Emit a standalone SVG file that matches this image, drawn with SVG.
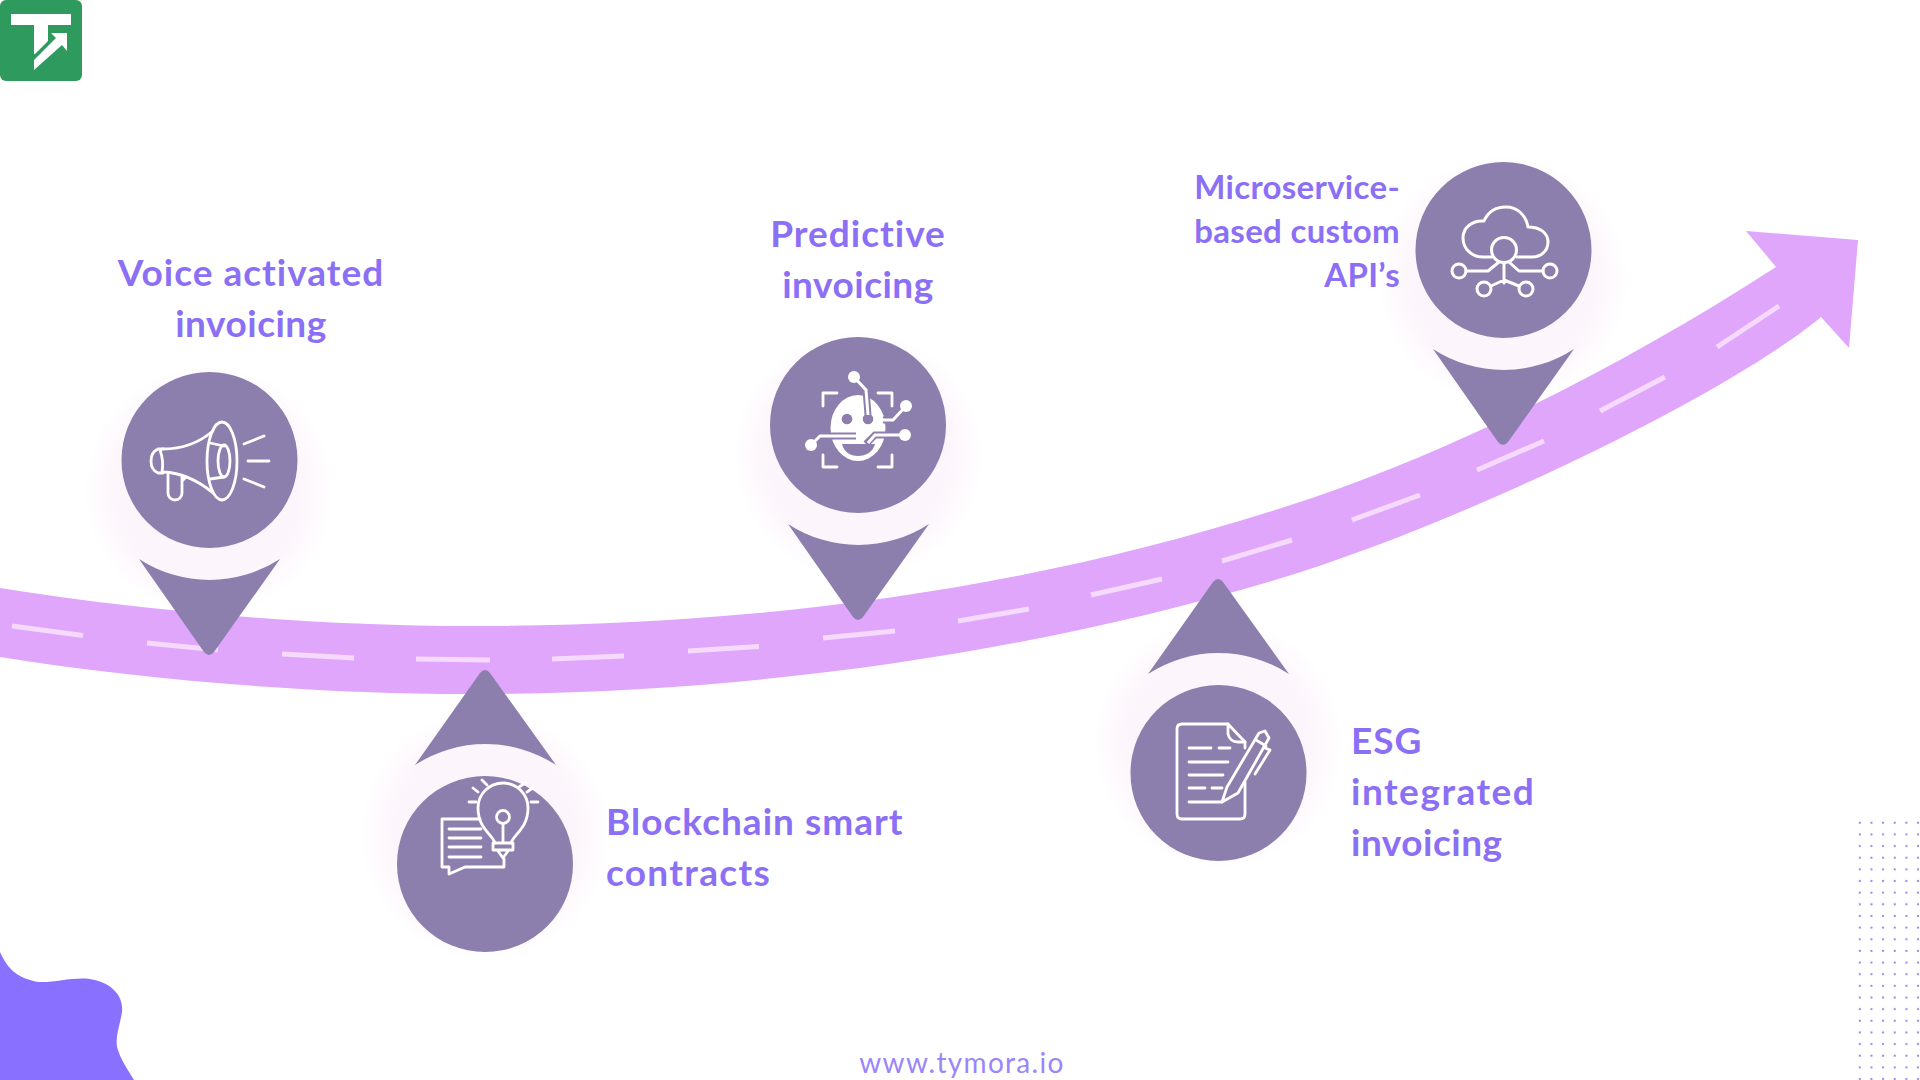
<svg xmlns="http://www.w3.org/2000/svg" width="1920" height="1080" viewBox="0 0 1920 1080">
<style>
.t{font-family:"Lato","Noto Sans",sans-serif;font-weight:700;fill:#8b6ff5;font-size:37px;letter-spacing:1px}
.s{font-size:33px;letter-spacing:.3px}
.n{letter-spacing:.5px}
.c{fill:#8c7fad}
.i{fill:none;stroke:#fff;stroke-width:2.8;stroke-linecap:round;stroke-linejoin:round}
.w{fill:#fff}
</style>
<defs>
<radialGradient id="halo"><stop offset="0.7" stop-color="#fcf5fb"/><stop offset="0.85" stop-color="#fef9fd"/><stop offset="1" stop-color="#fff"/></radialGradient>
<pattern id="dots" x="1854" y="817" width="11.65" height="11.65" patternUnits="userSpaceOnUse"><circle cx="5.8" cy="5.8" r="1.1" fill="#8f7fe0"/></pattern>
<path id="pinD" d="M-70,99 A129,129 0 0 0 71,99 L5,192 Q0,198 -5,192 Z" class="c"/>
<path id="pinU" d="M-70,-99 A129,129 0 0 1 71,-99 L5,-191 Q0,-197 -5,-191 Z" class="c"/>
</defs>
<rect width="1920" height="1080" fill="#fff"/>
<g id="decor">
<path d="M0,952 C8,970 18,978 38,982 C55,983 72,977 90,979 C110,982 124,995 122,1012 C120,1025 114,1040 118,1050 C121,1060 128,1070 134,1080 L0,1080 Z" fill="#8a70ff"/>
<rect x="1854" y="817" width="66" height="263" fill="url(#dots)"/>
</g>
<g id="logo">
<rect x="0" y="0" width="82" height="81" rx="6" fill="#2f9a5e"/>
<path d="M11,14 H71 V25 H48 V41 L35,54 H34 V25 H11 Z" fill="#fff"/>
<path d="M34,70 V60 L56,38 L51,33 H67 V51 L62,45 Z" fill="#fff"/>
</g>
<circle cx="209" cy="490" r="125" fill="url(#halo)"/>
<circle cx="858" cy="455" r="125" fill="url(#halo)"/>
<circle cx="1503" cy="280" r="125" fill="url(#halo)"/>
<circle cx="485" cy="834" r="125" fill="url(#halo)"/>
<circle cx="1218" cy="743" r="125" fill="url(#halo)"/>
<g id="connectors">
<path id="road" fill="#dfa6fb" d="M0,588 C150,612 320,626 470,626 C760,626 1040,590 1315,497 C1465,446 1636,358 1776,267 L1746,231 L1858,240 L1849,348 L1821,317 C1731,392 1465,523 1275,580 C1040,650 760,694 470,694 C320,694 150,681 0,657 Z"/>
<path fill="none" stroke="#f6dafd" stroke-width="5" d="M12,626 L83,635.5 M147,643 L218,650 M282,654 L354,658 M416,659 L490,660 M552,659 L624,656 M688,651 L759,646.5 M823,638 L895,631 M958,621 L1029,609 M1091,595 L1162,579 M1222,561 L1292,540 M1352,520 L1420,495 M1477,470 L1544,441 M1600,411 L1665,377 M1717,347 L1779,306"/>
</g>
<g id="node-voice">
<use href="#pinD" x="209" y="460"/>
<circle class="c" cx="209.5" cy="460" r="88"/>
<g class="i">
<ellipse cx="222" cy="461" rx="15" ry="39"/>
<ellipse cx="224" cy="461" rx="6" ry="16"/>
<path d="M210,443 L224,446 M210,479 L224,477"/>
<path d="M163,449 C185,449 200,442 213,431 M163,472 C185,473 200,482 213,493"/>
<path d="M163,449 H158 Q151,452 151,461 Q151,470 158,473 H163 M160,450 Q164,461 162,472"/>
<path d="M168,475 V493 A7,7 0 0 0 182,493 V477 M182,481 L186,477"/>
<path d="M244,444 L264,436 M248,461 H269 M244,479 L264,487"/>
</g>
<text class="t" x="251" y="286" text-anchor="middle">Voice activated</text>
<text class="t n" x="251" y="337" text-anchor="middle">invoicing</text>
</g>
<g id="node-predictive">
<use href="#pinD" x="858" y="425"/>
<circle class="c" cx="858" cy="425" r="88"/>
<path class="i" d="M823,406 V393 H837 M878,393 H892 V406 M823,455 V467 H837 M878,467 H892 V455"/>
<ellipse class="w" cx="858" cy="428" rx="27.5" ry="33"/>
<circle class="c" cx="847" cy="419" r="5.3"/><circle class="c" cx="868" cy="419" r="5.3"/>
<path class="c" d="M842,444 H875 C873,452 866,456 858,456 C850,456 844,452 842,444 Z"/>
<path fill="none" stroke="#8c7fad" stroke-width="7" d="M811,445 L822,436 H856 M905,435 H875 L866,444 M866,390 L868,415 M906,406 L893,420 H883"/>
<path fill="none" stroke="#fff" stroke-width="3" d="M811,445 L820,436 H857 M905,435 H875 L868,443 M854,377 L866,390 L868,415 M906,406 L893,420 H883"/>
<circle class="w" cx="811" cy="445" r="6"/><circle class="w" cx="905" cy="435" r="6"/><circle class="w" cx="854" cy="377" r="6"/><circle class="w" cx="906" cy="406" r="6"/>
<text class="t" x="858" y="247" text-anchor="middle">Predictive</text>
<text class="t n" x="858" y="298" text-anchor="middle">invoicing</text>
</g>
<g id="node-microservice">
<use href="#pinD" x="1503" y="250"/>
<circle class="c" cx="1503.5" cy="250" r="88"/>
<g class="i" style="stroke-width:3">
<path d="M1492,257 H1483 C1472,257 1463,249 1463,238 C1463,227 1473,220 1484,221 C1488,212 1496,207 1506,207 C1517,207 1526,215 1528,227 C1540,227 1548,233 1548,242 C1548,251 1541,257 1532,257 H1517"/>
<circle cx="1504" cy="250" r="12.5"/>
<circle cx="1459" cy="271" r="7"/><circle cx="1550" cy="271" r="7"/><circle cx="1484" cy="289" r="7"/><circle cx="1526" cy="289" r="7"/>
<path d="M1466,271 H1488 L1499,262 M1543,271 H1519 L1509,262 M1504,263 V283 M1491,286 L1504,280 L1519,286"/>
</g>
<text class="t s" x="1400" y="199" text-anchor="end">Microservice-</text>
<text class="t s" x="1400" y="243" text-anchor="end">based custom</text>
<text class="t s" x="1400" y="287" text-anchor="end">API’s</text>
</g>
<g id="node-blockchain">
<use href="#pinU" x="485" y="864"/>
<circle class="c" cx="485" cy="864" r="88"/>
<g class="i">
<path d="M495,843 C492,834 478,828 478,808 A25,25 0 0 1 528,808 C528,828 514,834 511,843"/>
<circle cx="503" cy="817" r="6.5"/>
<path d="M503,824 V843 M493,843 H513 V850 H493 Z M498,851 L503,858 L508,851"/>
<path d="M469,802 H476 M473,788 L478,792 M482,780 L487,785 M519,787 L525,783 M527,792 L534,787 M531,802 H538"/>
<path d="M480,819 H442 V867 H449 V874 L465,867 H504 V859"/>
<path d="M449,829 H481 M449,838 H481 M449,847 H481 M449,857 H481"/>
</g>
<text class="t" x="606" y="835">Blockchain smart</text>
<text class="t" x="606" y="886" style="letter-spacing:1.3px">contracts</text>
</g>
<g id="node-esg">
<use href="#pinU" x="1218" y="773"/>
<circle class="c" cx="1218.5" cy="773" r="88"/>
<g class="i">
<path d="M1245,782 V814 Q1245,819 1240,819 H1182 Q1177,819 1177,814 V729 Q1177,724 1182,724 H1228 L1245,742 V748"/>
<path d="M1228,724 V734 Q1230,742 1238,742 H1245"/>
<path d="M1189,748 H1211 M1219,748 H1230 M1189,762 H1228 M1189,775 H1223 M1189,788 H1205 M1212,788 H1222 M1189,802 H1222"/>
<path d="M1227,787 L1222,802 L1238,793 L1269,738 L1265,731 L1259,733 Z M1256,740 L1266,746 M1255,774 L1270,750 L1265,748"/>
</g>
<text class="t" x="1351" y="754">ESG</text>
<text class="t" x="1351" y="805" style="letter-spacing:1.5px">integrated</text>
<text class="t n" x="1351" y="856">invoicing</text>
</g>
<text id="footer" x="962" y="1073" text-anchor="middle" style="font-family:'Lato','Noto Sans',sans-serif;font-size:28px;fill:#9a85fb;letter-spacing:1.3px">www.tymora.io</text>
</svg>
